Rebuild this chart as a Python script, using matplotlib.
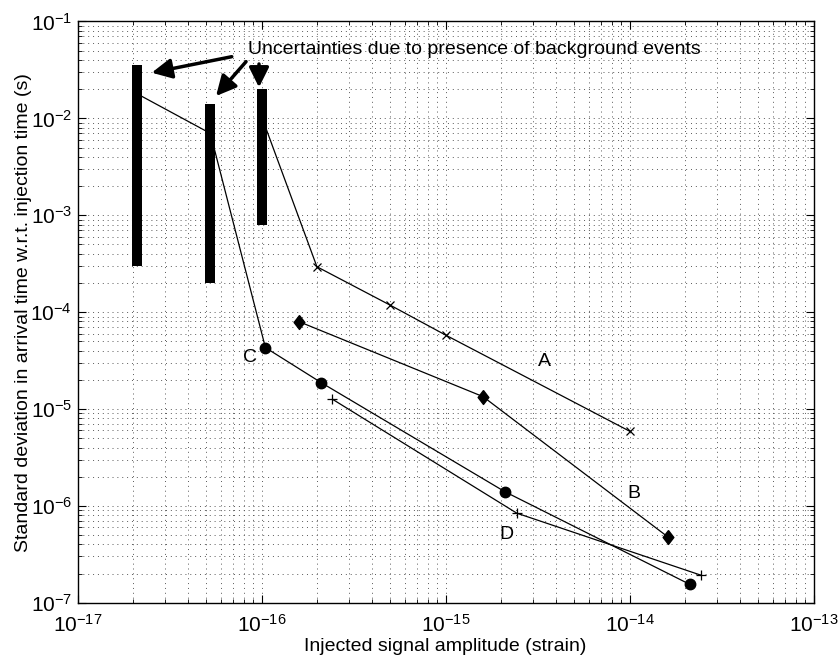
import matplotlib
matplotlib.use("Agg")
import matplotlib.pyplot as plt
import numpy as np

plt.rcParams['font.family'] = ['Liberation Sans', 'DejaVu Sans']
plt.rcParams['mathtext.fontset'] = 'custom'
plt.rcParams['mathtext.rm'] = 'Liberation Sans'
plt.rcParams['mathtext.it'] = 'Liberation Sans:italic'
plt.rcParams['mathtext.bf'] = 'Liberation Sans:bold'

# Uncertainty bars (background events)
bar_x = [2.10e-17, 5.27e-17, 1.0e-16]
bar_lo = [3.0e-4, 2.0e-4, 7.9e-4]
bar_hi = [3.56e-2, 1.40e-2, 2.0e-2]

# Series A (x markers)
a_x = [1.0e-16, 2.0e-16, 5.0e-16, 1.0e-15, 1.0e-14]
a_y = [1.05e-2, 2.94e-4, 1.18e-4, 5.8e-5, 5.9e-6]

# Series B (diamonds)
b_x = [1.6e-16, 1.6e-15, 1.61e-14]
b_y = [7.96e-5, 1.34e-5, 4.8e-7]

# Series C (circles)
c_x = [2.10e-17, 5.27e-17, 1.05e-16, 2.11e-16, 2.1e-15, 2.12e-14]
c_y = [1.8e-2, 7.0e-3, 4.3e-5, 1.87e-5, 1.40e-6, 1.55e-7]

# Series D (plus)
d_x = [2.43e-16, 2.44e-15, 2.45e-14]
d_y = [1.26e-5, 8.4e-7, 1.92e-7]

labels = ['A', 'B', 'C', 'D']
label_x = [3.47e-15, 1.06e-14, 8.66e-17, 2.15e-15]
label_y = [3.08e-5, 1.35e-6, 3.41e-5, 5.0e-7]

fig = plt.figure(figsize=(8.38, 6.61), dpi=100)
ax = fig.add_axes([0.0925, 0.0882, 0.9708 - 0.0925, 0.9675 - 0.0882])
ax.set_xscale('log')
ax.set_yscale('log')
ax.set_xlim(1e-17, 1e-13)
ax.set_ylim(1e-7, 1e-1)

diamond = [(0, 1), (0.77, 0), (0, -1), (-0.77, 0), (0, 1)]

lw = 0.9
ax.plot(a_x, a_y, color='k', lw=lw, marker='x', ms=6, mew=0.9, markevery=[1, 2, 3, 4], zorder=3)
ax.plot(b_x, b_y, color='k', lw=lw, marker=diamond, ms=10, mfc='k', mec='k', zorder=3)
ax.plot(c_x, c_y, color='k', lw=lw, marker='o', ms=7.5, mfc='k', mec='k', markevery=[2, 3, 4, 5], zorder=3)
ax.plot(d_x, d_y, color='k', lw=lw, marker='+', ms=7, mew=0.9, zorder=3)

for x, lo, hi in zip(bar_x, bar_lo, bar_hi):
    ax.plot([x, x], [lo, hi], color='k', lw=7.2, solid_capstyle='butt', zorder=4)

fs = 14
for t, x, y in zip(labels, label_x, label_y):
    ax.text(x, y, t, ha='center', va='center', fontsize=fs, zorder=5)

ax.text(8.48e-17, 5.08e-2, 'Uncertainties due to presence of background events',
        ha='left', va='center', fontsize=fs, zorder=5)

arrows = [((2.53e-17, 2.96e-2), (6.89e-17, 4.33e-2)),
          ((5.66e-17, 1.70e-2), (8.24e-17, 3.85e-2)),
          ((9.69e-17, 2.09e-2), (9.69e-17, 3.64e-2))]
for tip, tail in arrows:
    ax.annotate('', xy=tip, xytext=tail,
                arrowprops=dict(arrowstyle='-|>,head_length=0.8,head_width=0.4', lw=2.5,
                                color='k', shrinkA=0, shrinkB=0, mutation_scale=15),
                zorder=5)

ax.grid(True, which='both', ls=(0, (1, 4)), lw=0.7, color='0.35')
ax.tick_params(which='both', direction='in', top=True, right=True, labelsize=15)
ax.tick_params(which='major', length=6, width=0.8)
ax.tick_params(axis='x', which='major', pad=8)
ax.tick_params(axis='y', which='major', pad=4)
ax.tick_params(which='minor', length=3, width=0.6)
for s in ax.spines.values():
    s.set_linewidth(1.0)

ax.set_xlabel('Injected signal amplitude (strain)', fontsize=fs, labelpad=2)
ax.set_ylabel('Standard deviation in arrival time w.r.t. injection time (s)', fontsize=fs, labelpad=-1)

fig.savefig('out.png', dpi=100)
